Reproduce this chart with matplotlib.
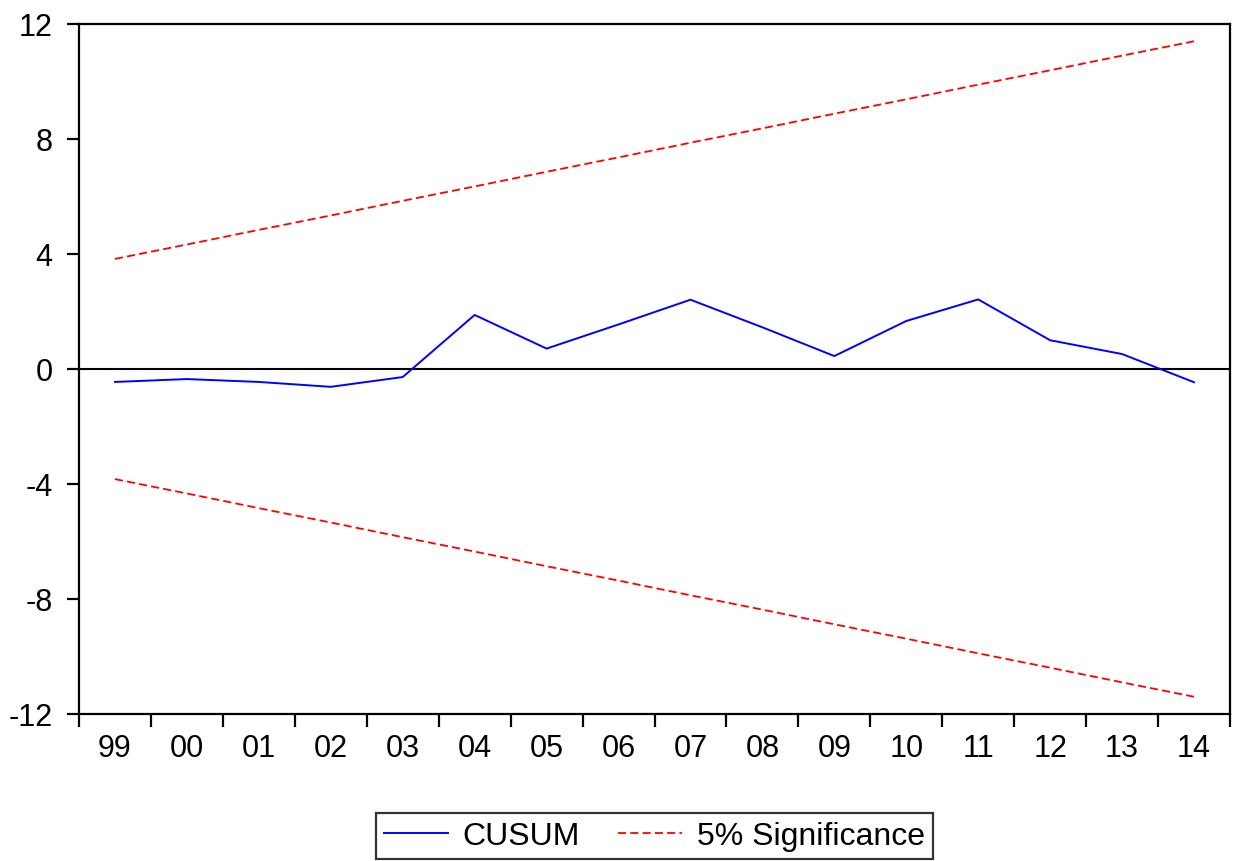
import matplotlib
matplotlib.use("Agg")
import matplotlib.pyplot as plt
from matplotlib.lines import Line2D

years = ["99", "00", "01", "02", "03", "04", "05", "06",
         "07", "08", "09", "10", "11", "12", "13", "14"]
cusum = [-0.45, -0.35, -0.45, -0.62, -0.28, 1.88, 0.71, 1.55,
         2.41, 1.45, 0.45, 1.67, 2.42, 1.00, 0.52, -0.46]
upper = [3.83, 4.33, 4.84, 5.34, 5.85, 6.35, 6.86, 7.36,
         7.87, 8.37, 8.88, 9.38, 9.89, 10.39, 10.90, 11.40]
lower = [-3.83, -4.33, -4.84, -5.34, -5.85, -6.35, -6.86, -7.36,
         -7.87, -8.37, -8.88, -9.38, -9.89, -10.39, -10.90, -11.40]
yticks = [-12, -8, -4, 0, 4, 8, 12]

plt.rcParams['font.family'] = ['Liberation Sans', 'DejaVu Sans']

fig = plt.figure(figsize=(12.33, 8.62), dpi=100)
ax = fig.add_axes([79/1233, 1-715/862, (1230-79)/1233, (715-25)/862])

x = list(range(len(years)))
ax.axhline(0, color='black', lw=1.5, zorder=1)
ax.plot(x, cusum, color='#0000ff', lw=1.4, zorder=3)
ax.plot(x, upper, color='#ff0000', lw=1.3, dashes=(4.5, 2.3), zorder=2)
ax.plot(x, lower, color='#ff0000', lw=1.3, dashes=(4.5, 2.3), zorder=2)

ax.set_xlim(-0.5, len(years) - 0.5)
ax.set_ylim(-12, 12)
ax.set_yticks(yticks)
ax.set_yticklabels([str(v) for v in yticks])

ax.set_xticks([i - 0.5 for i in range(len(years) + 1)])
ax.set_xticklabels([])
ax.set_xticks(x, minor=True)
ax.set_xticklabels(years, minor=True)

ax.tick_params(axis='both', which='major', direction='out', length=9,
               width=1.6, color='black', labelsize=22, pad=10)
ax.tick_params(axis='x', which='minor', length=0, labelsize=22, pad=14)
for s in ax.spines.values():
    s.set_linewidth(1.6)
    s.set_color('black')

handles = [Line2D([], [], color='#0000ff', lw=1.4),
           Line2D([], [], color='#ff0000', lw=1.3, dashes=(4.5, 2.3))]
leg = fig.legend(handles, ['CUSUM', '5% Significance'], loc='center',
                 bbox_to_anchor=(654.5/1233, 1-837/862), ncol=2,
                 fontsize=23, frameon=True, fancybox=False,
                 handlelength=2.0, columnspacing=1.2, handletextpad=0.47,
                 borderpad=0.25, borderaxespad=0)
leg.get_frame().set_edgecolor('black')
leg.get_frame().set_linewidth(1.6)

fig.savefig('out.png', dpi=100)
